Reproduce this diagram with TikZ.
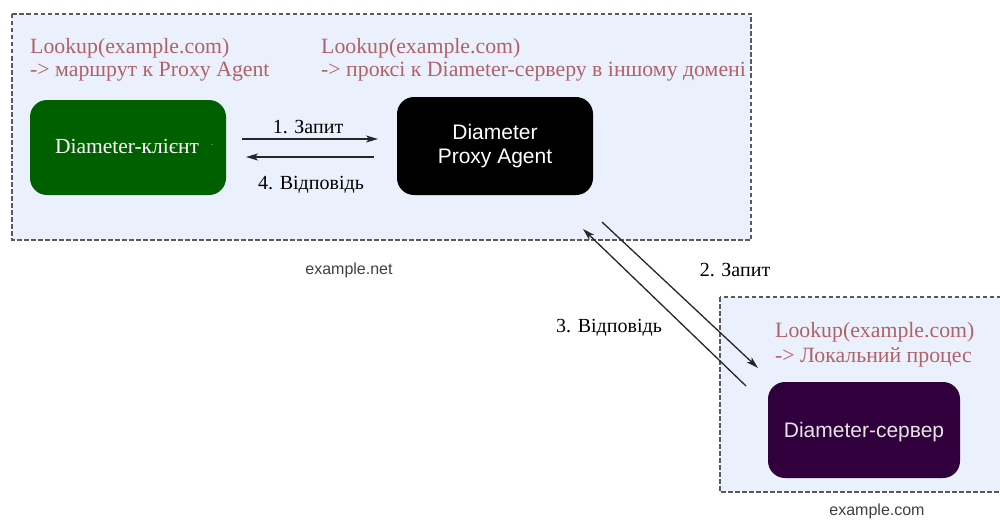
\documentclass[tikz,border=0pt]{standalone}
\usepackage{fontspec}
\setmainfont{Liberation Serif}
\newfontfamily\timesfont{Liberation Serif}
\newfontfamily\arialfont{Liberation Sans}
\usetikzlibrary{arrows.meta}
\definecolor{domainfill}{RGB}{235,241,252}
\definecolor{domainline}{RGB}{90,90,90}
\definecolor{lookupred}{RGB}{176,98,104}
\definecolor{clientgreen}{RGB}{0,96,0}
\definecolor{serverpurple}{RGB}{48,0,60}
\tikzset{
  domainbox/.style={draw=domainline, fill=domainfill, line width=1.8pt, dash pattern=on 4.5pt off 2.5pt},
  entity/.style={rounded corners=17pt, draw=none},
  lookup/.style={text=lookupred, font=\timesfont\fontsize{21.8}{24}\selectfont, anchor=base west, inner sep=0pt},
  msg/.style={text=black, font=\timesfont\fontsize{20}{24}\selectfont, anchor=base, inner sep=0pt},
  domainname/.style={text=black!75, font=\arialfont\fontsize{16}{19}\selectfont, anchor=base, inner sep=0pt},
  flow/.style={line width=1.3pt, black!85, -{Stealth[length=12pt,width=7pt,inset=3pt]}},
}
\begin{document}
\begin{tikzpicture}[x=1pt, y=-1pt]
\useasboundingbox (0,0) rectangle (1000,519);

% domains
\draw[domainbox] (12,14) rectangle (751,240);
\draw[domainbox] (720,297) rectangle (1012,492);

% lookup notes
\node[lookup] (l1a) at (30,53) {Lookup(example.com)};
\node[lookup] (l1b) at (30,76) {-> маршрут к Proxy Agent};
\node[lookup] (l2a) at (321,53) {Lookup(example.com)};
\node[lookup] (l2b) at (321,76) {-> проксі к Diameter-серверу в іншому домені};
\node[lookup] (l3a) at (775,337) {Lookup(example.com)};
\node[lookup] (l3b) at (775,362) {-> Локальний процес};

% entities
\fill[entity, clientgreen] (30,100) rectangle (226,195);
\node[text=white, font=\timesfont\fontsize{21.5}{24}\selectfont, anchor=base, inner sep=0pt] (client) at (127,153) {Diameter-клієнт};
\node[text=white!85!black, font=\fontsize{8}{8}\selectfont, inner sep=0pt] (clientdot) at (212,146) {·};

\fill[entity, black] (397,97) rectangle (593,195);
\node[text=white, font=\arialfont\fontsize{21}{24}\selectfont, align=center, inner sep=0pt] (proxy) at (495,146) {Diameter\\Proxy Agent};

\fill[entity, serverpurple] (768,382) rectangle (960,478);
\node[text=white!90!black, font=\arialfont\fontsize{21}{24}\selectfont, anchor=base, inner sep=0pt] (server) at (864,437) {Diameter-сервер};

% message anchors
\coordinate (a1s) at (242,139);
\coordinate (a1e) at (378,139);
\coordinate (a4s) at (374,157);
\coordinate (a4e) at (246,157);
\coordinate (a2s) at (602,222);
\coordinate (a2e) at (758,368);
\coordinate (a3s) at (746,386);
\coordinate (a3e) at (583,229);

\draw[flow] (a1s) -- (a1e);
\draw[flow] (a4s) -- (a4e);
\draw[flow] (a2s) -- (a2e);
\draw[flow] (a3s) -- (a3e);

\node[msg] (m1) at (308,133) {1. Запит};
\node[msg] (m4) at (311,189) {4. Відповідь};
\node[msg] (m2) at (735,276) {2. Запит};
\node[msg] (m3) at (609,332) {3. Відповідь};

% domain names
\node[domainname] (netname) at (349,274) {example.net};
\node[domainname] (comname) at (877,515) {example.com};
\end{tikzpicture}
\end{document}
